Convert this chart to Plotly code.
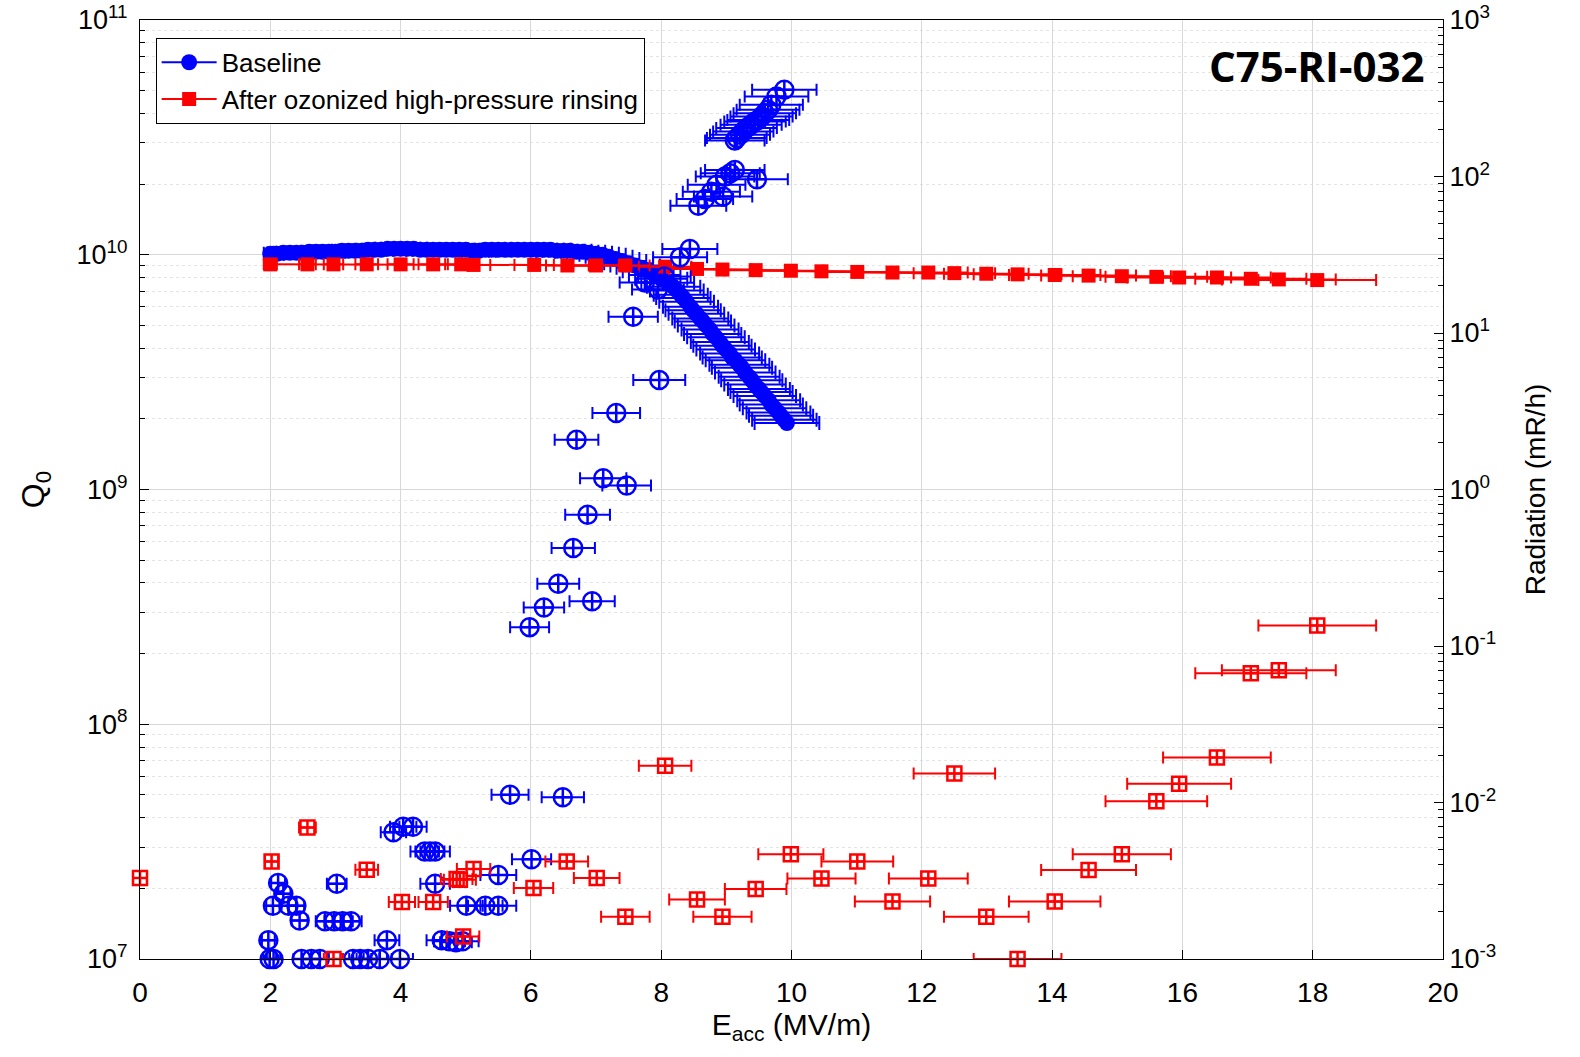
import plotly.graph_objects as go

# ---------------- data ----------------
# Baseline: Q0 vs Eacc (MV/m)
base_q_x = [2.00, 2.05, 2.10, 2.20, 2.30, 2.40, 2.50, 2.60, 2.70, 2.80, 2.90, 3.00,
            3.10, 3.20, 3.30, 3.40, 3.50, 3.60, 3.70, 3.80, 3.90, 4.00, 4.10, 4.20,
            4.30, 4.40, 4.50, 4.60, 4.70, 4.80, 4.90, 5.00, 5.10, 5.20, 5.30, 5.40,
            5.50, 5.60, 5.70, 5.80, 5.90, 6.00, 6.10, 6.20, 6.30, 6.40, 6.50, 6.60,
            6.70, 6.80, 6.90, 7.00, 7.10, 7.20, 7.30, 7.40, 7.50, 7.60, 7.70, 7.80,
            7.90, 8.00, 8.10,
            8.19, 8.24, 8.30, 8.34, 8.39, 8.45, 8.49, 8.54, 8.60, 8.64, 8.69, 8.75,
            8.79, 8.84, 8.90, 8.94, 8.99, 9.05, 9.09, 9.14, 9.20, 9.24, 9.29, 9.35,
            9.39, 9.44, 9.50, 9.54, 9.59, 9.65, 9.69, 9.74, 9.80, 9.84, 9.89, 9.93]
base_q = [1.01e10, 1.01e10, 1.01e10, 1.02e10, 1.02e10, 1.02e10, 1.02e10, 1.03e10,
          1.03e10, 1.03e10, 1.03e10, 1.03e10, 1.04e10, 1.04e10, 1.04e10, 1.04e10,
          1.05e10, 1.05e10, 1.05e10, 1.06e10, 1.06e10, 1.06e10, 1.06e10, 1.06e10,
          1.05e10, 1.05e10, 1.05e10, 1.05e10, 1.05e10, 1.05e10, 1.05e10, 1.05e10,
          1.04e10, 1.04e10, 1.05e10, 1.05e10, 1.05e10, 1.05e10, 1.05e10, 1.05e10,
          1.05e10, 1.05e10, 1.05e10, 1.05e10, 1.05e10, 1.04e10, 1.04e10, 1.04e10,
          1.03e10, 1.03e10, 1.02e10, 1.01e10, 1.00e10, 9.8e9, 9.6e9, 9.4e9,
          9.2e9, 9.0e9, 8.8e9, 8.5e9, 8.2e9, 7.9e9, 7.6e9,
          7.3e9, 7.05e9, 6.75e9, 6.55e9, 6.3e9, 6.0e9, 5.8e9, 5.6e9, 5.35e9,
          5.2e9, 5.0e9, 4.8e9, 4.6e9, 4.45e9, 4.25e9, 4.1e9, 3.95e9, 3.8e9,
          3.65e9, 3.55e9, 3.4e9, 3.3e9, 3.15e9, 3.02e9, 2.92e9, 2.8e9, 2.68e9,
          2.6e9, 2.5e9, 2.4e9, 2.3e9, 2.22e9, 2.13e9, 2.06e9, 1.98e9, 1.92e9]

# Baseline: radiation (mR/h) vs Eacc
base_r_x = [1.97, 1.99, 2.05, 2.04, 2.12, 2.20, 2.28, 2.40, 2.45, 2.48, 2.63, 2.76,
            2.84, 2.98, 3.02, 3.11, 3.24, 3.27, 3.38, 3.50, 3.68, 3.79, 3.89, 3.99,
            4.04, 4.19, 4.37, 4.45, 4.53, 4.53, 4.63, 4.75, 4.85, 4.95, 5.01, 5.30,
            5.50, 5.50, 5.68, 6.01, 6.49,
            5.98, 6.20, 6.42, 6.94, 6.65, 6.87, 7.11, 7.47, 6.70, 7.31, 7.97, 7.57,
            7.75, 7.95, 8.05, 8.29, 8.44,
            8.57, 8.67, 8.77, 8.85, 8.95, 8.98, 9.06, 9.13, 9.47,
            9.13, 9.16, 9.21, 9.26, 9.31, 9.38, 9.44, 9.49, 9.54, 9.59, 9.64, 9.69,
            9.77, 9.89]
base_r = [1.32e-3, 1.0e-3, 1.0e-3, 2.19e-3, 3.06e-3, 2.61e-3, 2.19e-3, 2.19e-3, 1.76e-3,
          1.0e-3, 1.0e-3, 1.0e-3, 1.74e-3, 1.74e-3, 3.03e-3, 1.74e-3, 1.74e-3, 1.0e-3,
          1.0e-3, 1.0e-3, 1.0e-3, 1.32e-3, 6.45e-3, 1.0e-3, 7.0e-3, 7.0e-3, 4.86e-3,
          4.86e-3, 4.86e-3, 3.03e-3, 1.32e-3, 1.3e-3, 1.28e-3, 1.3e-3, 2.19e-3, 2.19e-3,
          2.19e-3, 3.44e-3, 1.12e-2, 4.34e-3, 1.08e-2,
          0.132, 0.176, 0.250, 0.193, 0.423, 0.689, 1.18, 1.06, 2.08, 3.08, 5.0, 12.7,
          21.0, 19.0, 23.0, 30.5, 34.4,
          65.0, 71.8, 80.0, 88.5, 74.5, 100.0, 105.0, 110.0, 96.0,
          170.0, 176.0, 185.0, 194.0, 204.0, 214.0, 225.0, 230.0, 242.0, 254.0, 267.0, 287.0,
          324.0, 358.0]

# After ozonized HPR: Q0 vs Eacc
ohpr_q_x = [2.00, 2.57, 2.97, 3.48, 4.00, 4.50, 4.93, 5.12, 6.05, 6.56, 7.00, 7.45,
            8.06, 8.55, 8.94, 9.45, 9.99, 10.46, 11.01, 11.55, 12.10, 12.50, 12.99,
            13.47, 14.04, 14.56, 15.07, 15.60, 15.95, 16.53, 17.05, 17.48, 18.07]
ohpr_q = [9.1e9, 9.1e9, 9.1e9, 9.1e9, 9.1e9, 9.1e9, 9.1e9, 9.05e9, 9.05e9, 9.0e9,
          9.0e9, 9.0e9, 8.9e9, 8.7e9, 8.65e9, 8.6e9, 8.55e9, 8.5e9, 8.45e9, 8.4e9,
          8.4e9, 8.35e9, 8.3e9, 8.25e9, 8.2e9, 8.15e9, 8.1e9, 8.05e9, 8.0e9, 8.0e9,
          7.9e9, 7.85e9, 7.8e9]

# After ozonized HPR: radiation (mR/h) vs Eacc
ohpr_r_x = [0.00, 2.02, 2.57, 2.97, 3.48, 4.02, 4.50, 4.86, 4.91, 4.96, 5.12, 6.04,
            6.55, 7.01, 7.45, 8.06, 8.55, 8.94, 9.45, 9.99, 10.46, 11.01, 11.55, 12.10,
            12.50, 12.99, 13.47, 14.04, 14.56, 15.07, 15.60, 15.95, 16.53, 17.05,
            17.48, 18.07]
ohpr_r = [3.29e-3, 4.2e-3, 6.93e-3, 1.0e-3, 3.72e-3, 2.31e-3, 2.31e-3, 3.24e-3, 3.21e-3,
          1.39e-3, 3.76e-3, 2.84e-3, 4.2e-3, 3.29e-3, 1.86e-3, 1.72e-2, 2.4e-3, 1.86e-3,
          2.8e-3, 4.67e-3, 3.27e-3, 4.2e-3, 2.33e-3, 3.27e-3, 1.53e-2, 1.86e-3, 1.0e-3,
          2.33e-3, 3.7e-3, 4.67e-3, 1.02e-2, 1.32e-2, 1.94e-2, 6.7e-2, 7.0e-2, 0.135]

x_err_percent = 5

x_ticks = list(range(0, 21, 2))
q_exps = [7, 8, 9, 10, 11]
r_exps = [-3, -2, -1, 0, 1, 2, 3]

BLUE = "#0000FF"
RED = "#FF0000"
FONT = "Liberation Sans"

def err(color, w=6):
    return dict(type="percent", value=x_err_percent, color=color, thickness=2, width=w)

fig = go.Figure()

fig.add_trace(go.Scatter(
    x=base_q_x, y=base_q, mode="lines+markers", name="Baseline",
    legendgroup="base", line=dict(color=BLUE, width=2),
    marker=dict(symbol="circle", size=16, color=BLUE),
    error_x=err(BLUE, 7), yaxis="y"))
fig.add_trace(go.Scatter(
    x=ohpr_q_x, y=ohpr_q, mode="lines+markers",
    name="After ozonized high-pressure rinsing",
    legendgroup="ohpr", line=dict(color=RED, width=2),
    marker=dict(symbol="square", size=14, color=RED),
    error_x=err(RED), yaxis="y"))
fig.add_trace(go.Scatter(
    x=base_r_x, y=base_r, mode="markers", showlegend=False, legendgroup="base",
    cliponaxis=False,
    marker=dict(symbol="circle-cross-open", size=18, color=BLUE,
                line=dict(color=BLUE, width=2.5)),
    error_x=err(BLUE), yaxis="y2"))
fig.add_trace(go.Scatter(
    x=ohpr_r_x, y=ohpr_r, mode="markers", showlegend=False, legendgroup="ohpr",
    cliponaxis=False,
    marker=dict(symbol="square-cross-open", size=14, color=RED,
                line=dict(color=RED, width=2.5)),
    error_x=err(RED), yaxis="y2"))

q_minor = [m * 10 ** e for e in q_exps[:-1] for m in range(2, 10)]
r_minor = [m * 10.0 ** e for e in r_exps[:-1] for m in range(2, 10)]

fig.update_layout(
    width=1580, height=1057,
    margin=dict(l=140, r=137, t=20, b=98),
    paper_bgcolor="white", plot_bgcolor="white",
    font=dict(family=FONT, size=27, color="black"),
    showlegend=True,
    legend=dict(x=0.012, y=0.981, xanchor="left", yanchor="top",
                bgcolor="white", bordercolor="black", borderwidth=1,
                font=dict(family=FONT, size=26, color="black"),
                itemwidth=55, tracegroupgap=0),
    xaxis=dict(
        range=[0, 20], tickvals=x_ticks, ticktext=[str(v) for v in x_ticks],
        automargin=False, ticklabelstandoff=8, ticklabeloverflow="allow",
        tickfont=dict(size=28),
        showline=True, linecolor="black", linewidth=1, mirror=True,
        ticks="inside", ticklen=9, tickcolor="black",
        showgrid=True, gridcolor="#d8d8d8", gridwidth=1, zeroline=False,
        title=dict(text="E<sub>acc</sub> (MV/m)", font=dict(size=30), standoff=6),
    ),
    yaxis=dict(
        type="log", range=[7, 11], automargin=False, ticklabelstandoff=6,
        ticklabeloverflow="allow",
        tickvals=[10 ** e for e in q_exps],
        ticktext=[f"10<sup>{e}</sup>" for e in q_exps],
        showline=True, linecolor="black", linewidth=1,
        ticks="inside", ticklen=9, tickcolor="black",
        showgrid=True, gridcolor="#d8d8d8", gridwidth=1, zeroline=False,
        minor=dict(tickvals=q_minor, ticks="inside", ticklen=5, tickcolor="black",
                   showgrid=True, gridcolor="#e4e4e4", griddash="dot", gridwidth=1),
        title=dict(text="Q<sub>0</sub>", font=dict(size=32), standoff=22),
    ),
    yaxis2=dict(
        type="log", range=[-3, 3], overlaying="y", side="right", automargin=False,
        ticklabeloverflow="allow",
        tickvals=[10.0 ** e for e in r_exps],
        ticktext=[f"10<sup>{e}</sup>" for e in r_exps],
        showline=True, linecolor="black", linewidth=1,
        ticks="inside", ticklen=9, tickcolor="black",
        showgrid=False, zeroline=False,
        minor=dict(tickvals=r_minor, ticks="inside", ticklen=5, tickcolor="black",
                   showgrid=False),
        title=dict(text="Radiation (mR/h)", font=dict(size=28), standoff=30),
    ),
    annotations=[dict(
        text="<b>C75-RI-032</b>", xref="paper", yref="paper", x=0.988, y=0.952,
        xanchor="right", yanchor="middle", showarrow=False,
        font=dict(family="Open Sans", size=42, color="black"))],
)

fig.write_html("out.html",
               config={"displayModeBar": False},
               post_script="document.body.style.margin='0';"
                           "document.body.style.overflow='hidden';")
